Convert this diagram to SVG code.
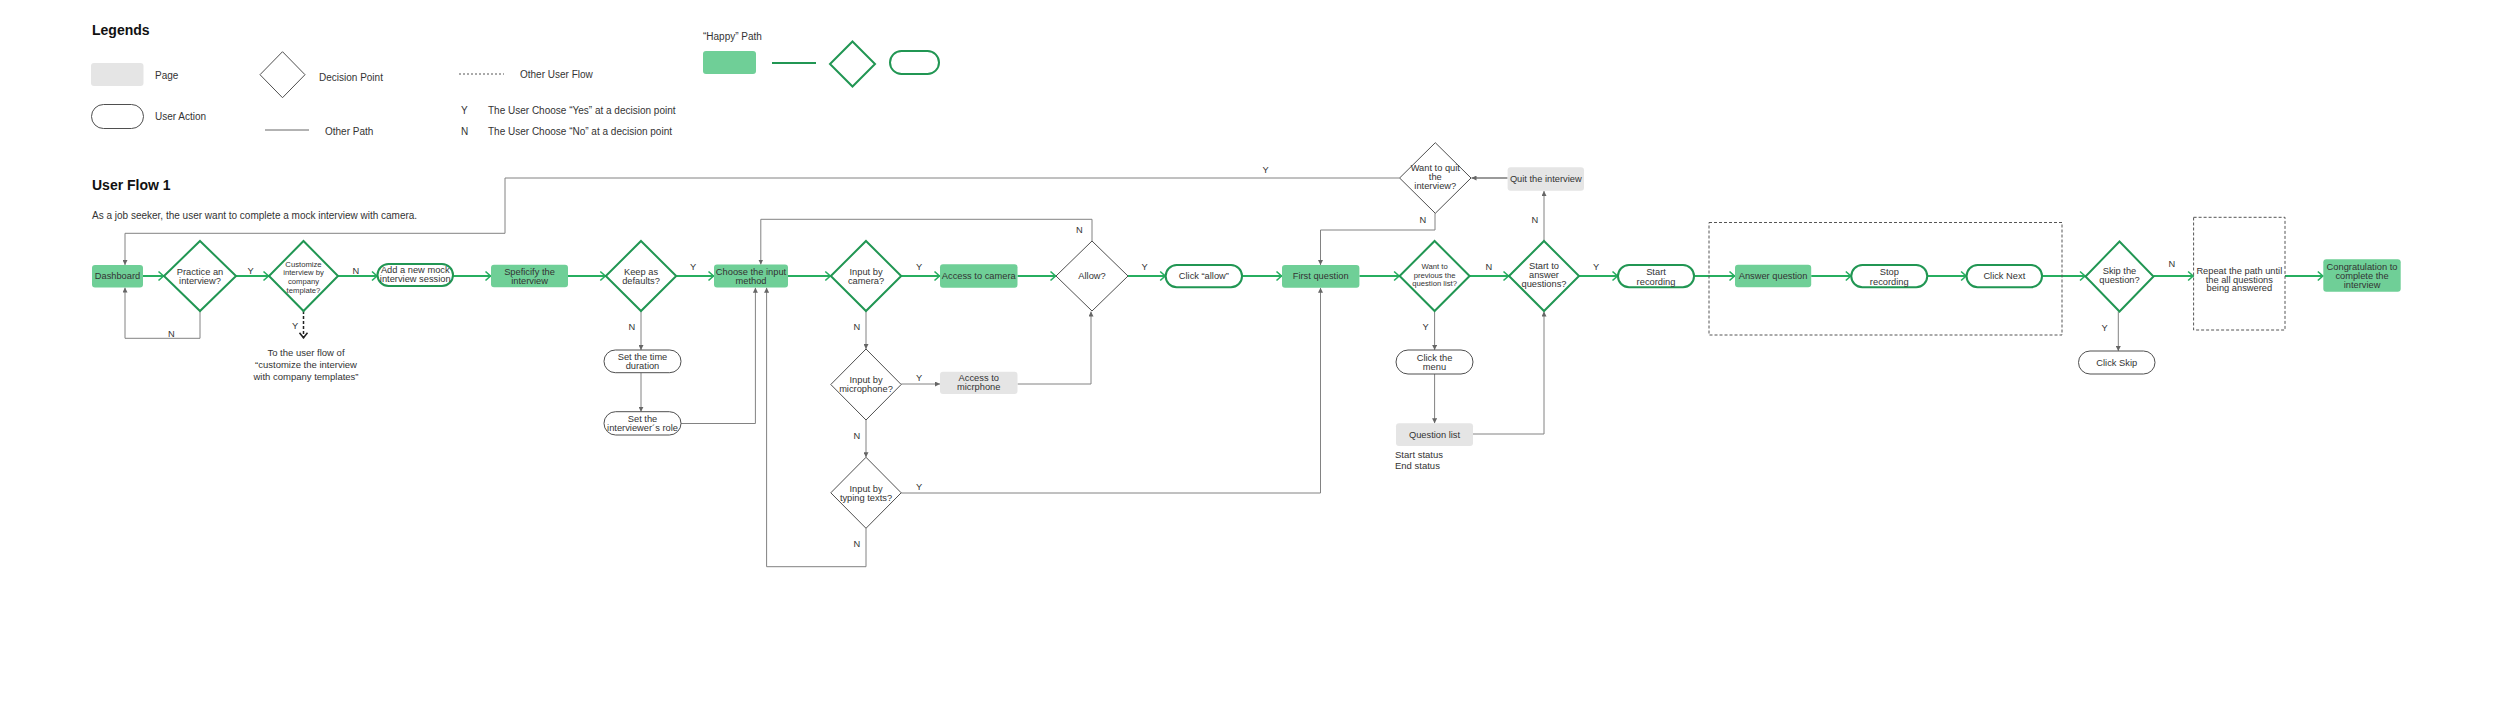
<svg xmlns="http://www.w3.org/2000/svg" width="2500" height="710" viewBox="0 0 2500 710">
<style>
text{font-family:"Liberation Sans",Arial,sans-serif;font-size:9.3px;fill:#333}
.c{text-anchor:middle}
.s{font-size:7.7px}
.lg{font-size:10px}
.h{font-size:14px;font-weight:bold;fill:#111}
.pg{fill:#E5E5E5}
.gp{fill:#6FCF97}
.gd{fill:#fff;stroke:#219653;stroke-width:2}
.dd{fill:#fff;stroke:#4F4F4F;stroke-width:1}
.cg{fill:none;stroke:#27AE60;stroke-width:2;marker-end:url(#chev)}
.cx{fill:none;stroke:#828282;stroke-width:1;marker-end:url(#tri)}
.dash{fill:none;stroke:#222;stroke-width:1.5;stroke-dasharray:3 2;marker-end:url(#dchev)}
.box{fill:none;stroke:#555;stroke-width:1;stroke-dasharray:3 2}
</style>
<defs>
<marker id="chev" markerUnits="userSpaceOnUse" viewBox="0 0 8 12" markerWidth="8" markerHeight="12" refX="7" refY="6" orient="auto"><path d="M1.5,1.5 L6.5,6 L1.5,10.5" fill="none" stroke="#27AE60" stroke-width="1.6"/></marker>
<marker id="tri" markerUnits="userSpaceOnUse" viewBox="0 0 6 6" markerWidth="5" markerHeight="5" refX="6" refY="3" orient="auto"><path d="M0,0 L6,3 L0,6 z" fill="#666"/></marker>
<marker id="dchev" markerUnits="userSpaceOnUse" viewBox="0 0 8 10" markerWidth="8" markerHeight="10" refX="7" refY="5" orient="auto"><path d="M1.5,1 L6.5,5 L1.5,9" fill="none" stroke="#222" stroke-width="1.5"/></marker>
</defs>
<rect width="2500" height="710" fill="#fff"/>

<g id="legend">
<text class="h" x="92" y="35">Legends</text>
<rect class="pg" x="91" y="63" width="52.5" height="23" rx="3"/>
<text class="lg" x="155" y="78.5">Page</text>
<rect class="dd" x="91.5" y="104.5" width="52" height="24" rx="12" stroke-width="1.3"/>
<text class="lg" x="155" y="120">User Action</text>
<polygon class="dd" points="282.5,51.7 305,74.7 282.5,97.7 260,74.7"/>
<text class="lg" x="319" y="81">Decision Point</text>
<line x1="265" y1="130" x2="309" y2="130" stroke="#666" stroke-width="1"/>
<text class="lg" x="325" y="134.5">Other Path</text>
<line x1="459" y1="74" x2="504" y2="74" stroke="#555" stroke-width="1" stroke-dasharray="2 2"/>
<text class="lg" x="520" y="78">Other User Flow</text>
<text class="lg" x="461" y="113.5">Y</text>
<text class="lg" x="488" y="113.5">The User Choose “Yes” at a decision point</text>
<text class="lg" x="461" y="134.5">N</text>
<text class="lg" x="488" y="134.5">The User Choose “No” at a decision point</text>
<text class="lg" x="703" y="40">“Happy” Path</text>
<rect class="gp" x="703" y="51" width="53" height="23" rx="3"/>
<line x1="772" y1="63" x2="816" y2="63" stroke="#219653" stroke-width="2"/>
<polygon class="gd" points="852.5,41.5 875,64 852.5,86.5 830,64"/>
<rect class="gd" x="890" y="51" width="49" height="23" rx="11.5"/>
</g>

<g id="title">
<text class="h" x="92" y="190">User Flow 1</text>
<text class="lg" x="92" y="218.5">As a job seeker, the user want to complete a mock interview with camera.</text>
</g>

<g id="connectors">
<path class="cg" d="M143,276 H164"/>
<path class="cg" d="M236,276 H269"/>
<path class="cg" d="M338,276 H377.5"/>
<path class="cg" d="M453,276 H491"/>
<path class="cg" d="M568,276 H605.8"/>
<path class="cg" d="M676.2,276 H714"/>
<path class="cg" d="M788,276 H830.8"/>
<path class="cg" d="M901.2,276 H940"/>
<path class="cg" d="M1017.5,276 H1056"/>
<path class="cg" d="M1128,276 H1165.7"/>
<path class="cg" d="M1242,276 H1282"/>
<path class="cg" d="M1359.4,276 H1399.6"/>
<path class="cg" d="M1469.6,276 H1509"/>
<path class="cg" d="M1579,276 H1618"/>
<path class="cg" d="M1694,276 H1735"/>
<path class="cg" d="M1811.2,276 H1851.3"/>
<path class="cg" d="M1927.2,276 H1966.6"/>
<path class="cg" d="M2042,276 H2085.5"/>
<path class="cg" d="M2153.5,276 H2193.6"/>
<path class="cg" d="M2285,276 H2323.3"/>

<path class="cx" d="M1399.6,178 H505 V233.3 H125 V265"/>
<path class="cx" d="M200,311 V338.3 H125 V287.5"/>
<path class="dash" d="M303.5,311 V338.3"/>
<path class="cx" d="M641,311 V350"/>
<path class="cx" d="M641,372.7 V411.7"/>
<path class="cx" d="M681,423.5 H755.4 V287.7"/>
<path class="cx" d="M1092,241 V219.3 H760.8 V264.5"/>
<path class="cx" d="M866,311 V349"/>
<path class="cx" d="M901.2,384 H940"/>
<path class="cx" d="M1017.5,384 H1091 V311.5"/>
<path class="cx" d="M866,420 V457.3"/>
<path class="cx" d="M901.2,493 H1320.5 V287.7"/>
<path class="cx" d="M866,528.3 V566.7 H766.6 V287.7"/>
<path d="M1507.6,178 H1471.5" fill="none" stroke="#9A9A9A" stroke-width="2" marker-end="url(#tri)"/>
<path class="cx" d="M1435,213.3 V230 H1320.5 V265"/>
<path class="cx" d="M1544,241 V191"/>
<path class="cx" d="M1434.6,311 V350"/>
<path class="cx" d="M1434.6,374 V423.3"/>
<path class="cx" d="M1473,434 H1544 V311.5"/>
<path class="cx" d="M2118.3,311.5 V351"/>

<text x="247.5" y="273.5">Y</text>
<text x="352.5" y="273.5">N</text>
<text x="690" y="269.5">Y</text>
<text x="916" y="269.5">Y</text>
<text x="1141.5" y="269.5">Y</text>
<text x="1485.5" y="269.5">N</text>
<text x="1593" y="269.5">Y</text>
<text x="2168.5" y="267">N</text>
<text x="1262.5" y="173">Y</text>
<text x="168" y="336.5">N</text>
<text x="292" y="329">Y</text>
<text x="628.5" y="330">N</text>
<text x="853.5" y="330">N</text>
<text x="916" y="380.5">Y</text>
<text x="853.5" y="439">N</text>
<text x="916" y="490">Y</text>
<text x="853.5" y="547">N</text>
<text x="1076" y="232.5">N</text>
<text x="1419.5" y="222.5">N</text>
<text x="1531.5" y="222.5">N</text>
<text x="1422.5" y="330">Y</text>
<text x="2101.5" y="331">Y</text>
</g>

<g id="dashboard"><rect class="gp" x="92" y="265" width="51" height="22.5" rx="3"/><text class="c" x="117.5" y="279.2">Dashboard</text></g>
<g id="practice"><polygon class="gd" points="200,241 236,276 200,311 164,276"/><text class="c" x="200" y="274.7">Practice an</text><text class="c" x="200" y="283.9">interview?</text></g>
<g id="customize"><polygon class="gd" points="303.5,241 338,276 303.5,311 269,276"/><text class="c s" x="303.5" y="266.5">Customize</text><text class="c s" x="303.5" y="275.2">interview by</text><text class="c s" x="303.5" y="284.2">company</text><text class="c s" x="303.5" y="293.2">template?</text></g>
<g id="customize-note"><text class="c" x="306" y="356.3" style="font-size:9.5px">To the user flow of</text><text class="c" x="306" y="368.3" style="font-size:9.5px">“customize the interview</text><text class="c" x="306" y="380.3" style="font-size:9.5px">with company templates”</text></g>
<g id="add-session"><rect class="gd" x="377.5" y="264" width="75.5" height="22" rx="11"/><text class="c" x="415.25" y="273">Add a new mock</text><text class="c" x="415.25" y="282.2">interview session</text></g>
<g id="specify"><rect class="gp" x="491" y="264.7" width="77" height="22.6" rx="3"/><text class="c" x="529.5" y="275.2">Speficify the</text><text class="c" x="529.5" y="284.4">interview</text></g>
<g id="keep-defaults"><polygon class="gd" points="641,241 676.2,276 641,311 605.8,276"/><text class="c" x="641" y="274.7">Keep as</text><text class="c" x="641" y="283.9">defaults?</text></g>
<g id="choose-input"><rect class="gp" x="714" y="264.5" width="74" height="23" rx="3"/><text class="c" x="751" y="275">Choose the input</text><text class="c" x="751" y="284.2">method</text></g>
<g id="set-time"><rect class="dd" x="604" y="350" width="77" height="22.7" rx="11.3"/><text class="c" x="642.5" y="359.5">Set the time</text><text class="c" x="642.5" y="368.7">duration</text></g>
<g id="set-role"><rect class="dd" x="604" y="411.7" width="77" height="23.3" rx="11.6"/><text class="c" x="642.5" y="421.5">Set the</text><text class="c" x="642.5" y="430.7">interviewer´s role</text></g>
<g id="input-camera"><polygon class="gd" points="866,241 901.2,276 866,311 830.8,276"/><text class="c" x="866" y="274.7">Input by</text><text class="c" x="866" y="283.9">camera?</text></g>
<g id="access-camera"><rect class="gp" x="940" y="264.3" width="77.5" height="23.4" rx="3"/><text class="c" x="978.75" y="279.2">Access to camera</text></g>
<g id="allow"><polygon class="dd" points="1092,241 1128,276 1092,311 1056,276"/><text class="c" x="1092" y="279.2">Allow?</text></g>
<g id="click-allow"><rect class="gd" x="1165.7" y="265" width="76.3" height="22.3" rx="11"/><text class="c" x="1203.85" y="279.2">Click “allow”</text></g>
<g id="input-mic"><polygon class="dd" points="866,349 901.2,384.5 866,420 830.8,384.5"/><text class="c" x="866" y="383">Input by</text><text class="c" x="866" y="392.2">microphone?</text></g>
<g id="access-mic"><rect class="pg" x="940" y="371.7" width="77.5" height="22.3" rx="3"/><text class="c" x="978.75" y="380.7">Access to</text><text class="c" x="978.75" y="389.9">micrphone</text></g>
<g id="input-typing"><polygon class="dd" points="866,457.3 901.2,492.8 866,528.3 830.8,492.8"/><text class="c" x="866" y="492">Input by</text><text class="c" x="866" y="501.2">typing texts?</text></g>
<g id="want-quit"><polygon class="dd" points="1435.3,142.7 1471,178 1435.3,213.3 1399.6,178"/><text class="c" x="1435.3" y="171.3">Want to quit</text><text class="c" x="1435.3" y="180.3">the</text><text class="c" x="1435.3" y="189.2">interview?</text></g>
<g id="quit"><rect class="pg" x="1507.6" y="167.3" width="76.4" height="23.4" rx="3"/><text class="c" x="1545.8" y="182.2">Quit the interview</text></g>
<g id="first-question"><rect class="gp" x="1282" y="265" width="77.4" height="22.7" rx="3"/><text class="c" x="1320.7" y="279.2">First question</text></g>
<g id="want-previous"><polygon class="gd" points="1434.6,241 1469.6,276 1434.6,311 1399.6,276"/><text class="c s" x="1434.6" y="268.5">Want to</text><text class="c s" x="1434.6" y="277.5">previous the</text><text class="c s" x="1434.6" y="286.4">question list?</text></g>
<g id="start-answer"><polygon class="gd" points="1544,241 1579,276 1544,311 1509,276"/><text class="c" x="1544" y="269">Start to</text><text class="c" x="1544" y="278.2">answer</text><text class="c" x="1544" y="287.3">questions?</text></g>
<g id="click-menu"><rect class="dd" x="1396" y="350" width="77" height="24" rx="12"/><text class="c" x="1434.5" y="360.5">Click the</text><text class="c" x="1434.5" y="369.7">menu</text></g>
<g id="question-list"><rect class="pg" x="1396" y="423.3" width="77" height="22.7" rx="3"/><text class="c" x="1434.5" y="437.9">Question list</text><text x="1395" y="457.5" style="font-size:9.5px">Start status</text><text x="1395" y="469" style="font-size:9.5px">End status</text></g>
<g id="start-recording"><rect class="gd" x="1618" y="265" width="76" height="22.3" rx="11"/><text class="c" x="1656" y="275.3">Start</text><text class="c" x="1656" y="284.5">recording</text></g>
<g id="answer-loop"><rect class="box" x="1709" y="222.5" width="353" height="112.5"/></g>
<g id="answer-question"><rect class="gp" x="1735" y="264.7" width="76.2" height="22.6" rx="3"/><text class="c" x="1773.1" y="279.2">Answer question</text></g>
<g id="stop-recording"><rect class="gd" x="1851.3" y="265" width="75.9" height="22.3" rx="11"/><text class="c" x="1889.25" y="275.3">Stop</text><text class="c" x="1889.25" y="284.5">recording</text></g>
<g id="click-next"><rect class="gd" x="1966.6" y="265" width="75.4" height="22.3" rx="11"/><text class="c" x="2004.3" y="279.2">Click Next</text></g>
<g id="skip-question"><polygon class="gd" points="2119.5,241.5 2153.5,276.5 2119.5,311.5 2085.5,276.5"/><text class="c" x="2119.5" y="274">Skip the</text><text class="c" x="2119.5" y="283.2">question?</text></g>
<g id="click-skip"><rect class="dd" x="2078.5" y="351" width="76.5" height="23" rx="11.5"/><text class="c" x="2116.75" y="365.7">Click Skip</text></g>
<g id="repeat"><rect class="box" x="2193.6" y="217.3" width="91.4" height="112.7"/><text class="c" x="2239.3" y="273.7">Repeat the path until</text><text class="c" x="2239.3" y="282.5">the all questions</text><text class="c" x="2239.3" y="291">being answered</text></g>
<g id="congratulation"><rect class="gp" x="2323.3" y="259.3" width="77.4" height="32.4" rx="3"/><text class="c" x="2362" y="269.7">Congratulation to</text><text class="c" x="2362" y="278.7">complete the</text><text class="c" x="2362" y="287.5">interview</text></g>
</svg>
